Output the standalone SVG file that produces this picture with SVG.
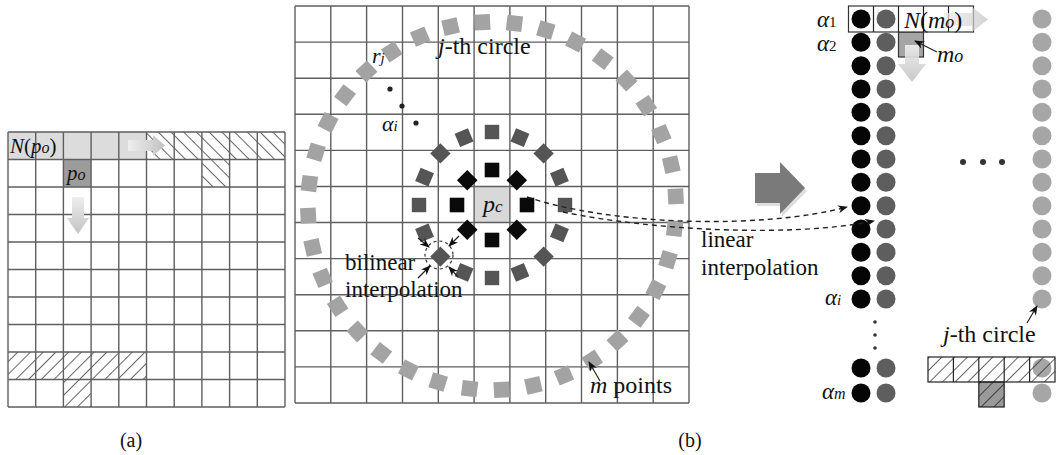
<svg xmlns="http://www.w3.org/2000/svg" xmlns:xlink="http://www.w3.org/1999/xlink" width="1059" height="455" viewBox="0 0 1059 455">
<style>
.grid{fill:none;stroke:#5f5f5f;stroke-width:1.4}
.t{font-family:"Liberation Serif","Times New Roman",serif;fill:#111}
.i{font-style:italic}
.dash{fill:none;stroke:#222;stroke-width:1.4;stroke-dasharray:5 4}
.thin{fill:none;stroke:#222;stroke-width:1.2}
.blk{fill:#050505}
.dg{fill:#5e5e5e}
.lg{fill:#a6a6a6}
</style>
<defs>
<pattern id="hB" width="9" height="9" patternUnits="userSpaceOnUse" patternTransform="rotate(-45)"><line x1="0" y1="0" x2="0" y2="9" stroke="#111" stroke-width="1.3"/></pattern>
<pattern id="hF" width="9" height="9" patternUnits="userSpaceOnUse" patternTransform="rotate(45)"><line x1="0" y1="0" x2="0" y2="9" stroke="#111" stroke-width="1.3"/></pattern>
<linearGradient id="gR" x1="0" y1="0" x2="1" y2="0"><stop offset="0" stop-color="#eeeeee"/><stop offset="1" stop-color="#c2c2c2"/></linearGradient>
<linearGradient id="gD" x1="0" y1="0" x2="0" y2="1"><stop offset="0" stop-color="#eeeeee"/><stop offset="1" stop-color="#c2c2c2"/></linearGradient>
<marker id="ah" viewBox="0 0 10 8" refX="9" refY="4" markerWidth="10" markerHeight="8" markerUnits="userSpaceOnUse" orient="auto"><path d="M0,0 L10,4 L0,8 L3,4 z" fill="#111"/></marker>
<rect id="so" x="-7.8" y="-7.8" width="15.6" height="15.6" fill="#a3a3a3"/>
<rect id="sm" x="-7.2" y="-7.2" width="14.4" height="14.4" fill="#555"/>
<rect id="si" x="-7.3" y="-7.3" width="14.6" height="14.6" fill="#0a0a0a"/>
</defs>
<rect width="1059" height="455" fill="#fff"/>

<!-- Panel (a) -->
<g id="panel-a">
<rect x="8" y="132" width="138.5" height="27.5" fill="#dcdcdc"/>
<rect x="146.5" y="132" width="138.5" height="27.5" fill="url(#hB)"/>
<rect x="201.9" y="159.5" width="27.7" height="27.5" fill="url(#hB)"/>
<rect x="63.4" y="159.5" width="27.7" height="27.5" fill="#9c9c9c"/>
<rect x="8" y="352" width="138.5" height="27.5" fill="url(#hF)"/>
<rect x="63.4" y="379.5" width="27.7" height="27.5" fill="url(#hF)"/>
<path class="grid" d="M8 132V407M35.7 132V407M63.4 132V407M91.1 132V407M118.8 132V407M146.5 132V407M174.2 132V407M201.9 132V407M229.6 132V407M257.3 132V407M285 132V407M8 132H285M8 159.5H285M8 187H285M8 214.5H285M8 242H285M8 269.5H285M8 297H285M8 324.5H285M8 352H285M8 379.5H285M8 407H285"/>
<path d="M128 140H153V135L165 145.5L153 156V151H128Z" fill="url(#gR)"/>
<path d="M72 197H84V218H89L78 234L67 218H72Z" fill="url(#gD)"/>
<text class="t" x="10" y="153" font-size="21"><tspan class="i">N</tspan>(<tspan class="i">p</tspan><tspan class="i" font-size="16">o</tspan>)</text>
<text class="t i" x="67" y="180" font-size="21">p<tspan font-size="16">o</tspan></text>
</g>

<!-- Panel (b) grid -->
<g id="panel-b-grid">
<rect x="474.1" y="186.5" width="35.8" height="36" fill="#d8d8d8"/>
<path class="grid" d="M295 6V403M330.8 6V403M366.6 6V403M402.5 6V403M438.3 6V403M474.1 6V403M509.9 6V403M545.7 6V403M581.5 6V403M617.4 6V403M653.2 6V403M689 6V403M295 6H689M295 42.1H689M295 78.2H689M295 114.3H689M295 150.4H689M295 186.5H689M295 222.5H689M295 258.6H689M295 294.7H689M295 330.8H689M295 366.9H689M295 403H689"/>
</g>

<g id="outer-circle" transform="translate(492,206)">
<use href="#so" transform="rotate(7) translate(184)"/><use href="#so" transform="rotate(17) translate(184)"/><use href="#so" transform="rotate(27) translate(184)"/><use href="#so" transform="rotate(37) translate(184)"/><use href="#so" transform="rotate(47) translate(184)"/><use href="#so" transform="rotate(57) translate(184)"/><use href="#so" transform="rotate(67) translate(184)"/><use href="#so" transform="rotate(77) translate(184)"/><use href="#so" transform="rotate(87) translate(184)"/><use href="#so" transform="rotate(97) translate(184)"/><use href="#so" transform="rotate(107) translate(184)"/><use href="#so" transform="rotate(117) translate(184)"/><use href="#so" transform="rotate(127) translate(184)"/><use href="#so" transform="rotate(137) translate(184)"/><use href="#so" transform="rotate(147) translate(184)"/><use href="#so" transform="rotate(157) translate(184)"/><use href="#so" transform="rotate(167) translate(184)"/><use href="#so" transform="rotate(177) translate(184)"/><use href="#so" transform="rotate(187) translate(184)"/><use href="#so" transform="rotate(197) translate(184)"/><use href="#so" transform="rotate(207) translate(184)"/><use href="#so" transform="rotate(217) translate(184)"/><use href="#so" transform="rotate(227) translate(184)"/><use href="#so" transform="rotate(237) translate(184)"/><use href="#so" transform="rotate(247) translate(184)"/><use href="#so" transform="rotate(257) translate(184)"/><use href="#so" transform="rotate(267) translate(184)"/><use href="#so" transform="rotate(277) translate(184)"/><use href="#so" transform="rotate(287) translate(184)"/><use href="#so" transform="rotate(297) translate(184)"/><use href="#so" transform="rotate(307) translate(184)"/><use href="#so" transform="rotate(317) translate(184)"/><use href="#so" transform="rotate(327) translate(184)"/><use href="#so" transform="rotate(337) translate(184)"/><use href="#so" transform="rotate(347) translate(184)"/><use href="#so" transform="rotate(357) translate(184)"/>
</g>
<g id="middle-circle" transform="translate(492,205)">
<use href="#sm" transform="rotate(0) translate(73)"/><use href="#sm" transform="rotate(22.5) translate(73)"/><use href="#sm" transform="rotate(45) translate(73)"/><use href="#sm" transform="rotate(67.5) translate(73)"/><use href="#sm" transform="rotate(90) translate(73)"/><use href="#sm" transform="rotate(112.5) translate(73)"/><use href="#sm" transform="rotate(135) translate(73)"/><use href="#sm" transform="rotate(157.5) translate(73)"/><use href="#sm" transform="rotate(180) translate(73)"/><use href="#sm" transform="rotate(202.5) translate(73)"/><use href="#sm" transform="rotate(225) translate(73)"/><use href="#sm" transform="rotate(247.5) translate(73)"/><use href="#sm" transform="rotate(270) translate(73)"/><use href="#sm" transform="rotate(292.5) translate(73)"/><use href="#sm" transform="rotate(315) translate(73)"/><use href="#sm" transform="rotate(337.5) translate(73)"/>
</g>
<g id="inner-circle" transform="translate(492,205)">
<use href="#si" transform="rotate(0) translate(35)"/><use href="#si" transform="rotate(45) translate(35)"/><use href="#si" transform="rotate(90) translate(35)"/><use href="#si" transform="rotate(135) translate(35)"/><use href="#si" transform="rotate(180) translate(35)"/><use href="#si" transform="rotate(225) translate(35)"/><use href="#si" transform="rotate(270) translate(35)"/><use href="#si" transform="rotate(315) translate(35)"/>
</g>

<g id="panel-b-labels">
<text class="t i" x="483" y="212" font-size="24">p<tspan font-size="17">c</tspan></text>
<text class="t" x="438" y="54" font-size="24"><tspan class="i">j</tspan>-th circle</text>
<text class="t i" x="372" y="63" font-size="22">r<tspan font-size="15">j</tspan></text>
<circle cx="390" cy="89" r="2.6" fill="#222"/><circle cx="402" cy="106" r="2.6" fill="#222"/><circle cx="416" cy="123" r="2.6" fill="#222"/>
<text class="t i" x="382" y="131" font-size="22">α<tspan font-size="15">i</tspan></text>
<circle cx="439" cy="255" r="14" fill="none" stroke="#333" stroke-width="1.2" stroke-dasharray="3 3"/>
<text class="t" x="345" y="270" font-size="23">bilinear</text>
<text class="t" x="345" y="297" font-size="23">interpolation</text>
<text class="t" x="590" y="393" font-size="24"><tspan class="i">m</tspan> points</text>
<text class="t" x="701" y="247" font-size="23">linear</text>
<text class="t" x="701" y="275" font-size="23">interpolation</text>
</g>

<!-- Panel (b) right -->
<g id="arrow-big"><path d="M757 176H782V165L807 191L782 217V206H757Z" fill="#c8c8c8" opacity="0.6"/><path d="M755 173H780V162L805 188L780 214V203H755Z" fill="#7a7a7a"/></g>

<g id="table-top">
<rect x="898.5" y="32" width="25" height="25" fill="#a5a5a5" stroke="#333" stroke-width="1.2"/>
<rect x="848.5" y="6" width="125" height="26" fill="#fff" stroke="#333" stroke-width="1.2"/>
<path class="thin" d="M873.5 6V32M898.5 6V32M923.5 6V32M948.5 6V32"/>
<path d="M944 13H972V7L988 19.5L972 32V26H944Z" fill="url(#gR)" opacity="0.7"/>
<text class="t" x="904" y="28" font-size="24"><tspan class="i">N</tspan>(<tspan class="i">m</tspan><tspan class="i" font-size="18">o</tspan>)</text>
<path d="M905 45H919V64H926L912 82L898 64H905Z" fill="url(#gD)" opacity="0.9"/>
<text class="t i" x="937" y="62" font-size="24">m<tspan font-size="18">o</tspan></text>
</g>

<g id="col-black" class="blk">
<circle cx="861" cy="19" r="9.5"/><circle cx="861" cy="42.3" r="9.5"/><circle cx="861" cy="65.7" r="9.5"/><circle cx="861" cy="89" r="9.5"/><circle cx="861" cy="112.3" r="9.5"/><circle cx="861" cy="135.7" r="9.5"/><circle cx="861" cy="159" r="9.5"/><circle cx="861" cy="182.3" r="9.5"/><circle cx="861" cy="205.7" r="9.5"/><circle cx="861" cy="229" r="9.5"/><circle cx="861" cy="252.3" r="9.5"/><circle cx="861" cy="275.7" r="9.5"/><circle cx="861" cy="299" r="9.5"/><circle cx="861" cy="368" r="9.5"/><circle cx="861" cy="393" r="9.5"/>
</g>
<g id="col-dark" class="dg">
<circle cx="886" cy="19" r="9.5"/><circle cx="886" cy="42.3" r="9.5"/><circle cx="886" cy="65.7" r="9.5"/><circle cx="886" cy="89" r="9.5"/><circle cx="886" cy="112.3" r="9.5"/><circle cx="886" cy="135.7" r="9.5"/><circle cx="886" cy="159" r="9.5"/><circle cx="886" cy="182.3" r="9.5"/><circle cx="886" cy="205.7" r="9.5"/><circle cx="886" cy="229" r="9.5"/><circle cx="886" cy="252.3" r="9.5"/><circle cx="886" cy="275.7" r="9.5"/><circle cx="886" cy="299" r="9.5"/><circle cx="886" cy="368" r="9.5"/><circle cx="886" cy="393" r="9.5"/>
</g>
<g id="col-light" class="lg">
<circle cx="1042" cy="19" r="9.5"/><circle cx="1042" cy="42.3" r="9.5"/><circle cx="1042" cy="65.7" r="9.5"/><circle cx="1042" cy="89" r="9.5"/><circle cx="1042" cy="112.3" r="9.5"/><circle cx="1042" cy="135.7" r="9.5"/><circle cx="1042" cy="159" r="9.5"/><circle cx="1042" cy="182.3" r="9.5"/><circle cx="1042" cy="205.7" r="9.5"/><circle cx="1042" cy="229" r="9.5"/><circle cx="1042" cy="252.3" r="9.5"/><circle cx="1042" cy="275.7" r="9.5"/><circle cx="1042" cy="299" r="9.5"/><circle cx="1042" cy="368" r="9.5"/><circle cx="1042" cy="393" r="9.5"/>
</g>

<g id="ellipses" fill="#333">
<circle cx="963" cy="162" r="3"/><circle cx="983" cy="162" r="3"/><circle cx="1002" cy="162" r="3"/>
<circle cx="875" cy="322" r="1.8"/><circle cx="875" cy="335" r="1.8"/><circle cx="875" cy="348" r="1.8"/>
</g>

<g id="right-labels">
<text class="t" x="817" y="27" font-size="23"><tspan class="i">α</tspan><tspan font-size="15">1</tspan></text>
<text class="t" x="817" y="51" font-size="23"><tspan class="i">α</tspan><tspan font-size="15">2</tspan></text>
<text class="t i" x="825" y="305" font-size="23">α<tspan font-size="15">i</tspan></text>
<text class="t i" x="822" y="399" font-size="23">α<tspan font-size="16">m</tspan></text>
<text class="t" x="943" y="342" font-size="24"><tspan class="i">j</tspan>-th circle</text>
</g>

<g id="t-hatch">
<rect x="978.8" y="382" width="25.4" height="25" fill="#9a9a9a"/>
<rect x="928" y="357" width="127" height="25" fill="url(#hF)" stroke="#222" stroke-width="1.2"/>
<rect x="978.8" y="382" width="25.4" height="25" fill="url(#hF)" stroke="#222" stroke-width="1.2"/>
<path class="thin" d="M953.4 357V382M978.8 357V382M1004.2 357V382M1029.6 357V382"/>
</g>

<g id="connectors">
<path class="dash" d="M527 197C610 225 760 230 847 207" marker-end="url(#ah)"/>
<path class="dash" d="M563 212C650 230 790 238 874 221" marker-end="url(#ah)"/>
<path class="thin" d="M418 238L429 247" marker-end="url(#ah)"/>
<path class="thin" d="M459 236L449 246" marker-end="url(#ah)"/>
<path class="thin" d="M418 278L430 266" marker-end="url(#ah)"/>
<path class="thin" d="M458 277L449 267" marker-end="url(#ah)"/>
<path class="thin" d="M600 381L589 362" marker-end="url(#ah)"/>
<path class="thin" d="M937 52L915 41" marker-end="url(#ah)"/>
<path class="thin" d="M1027 323L1037 306" marker-end="url(#ah)"/>
</g>

<g id="captions">
<text class="t" x="131" y="447" font-size="20" text-anchor="middle">(a)</text>
<text class="t" x="690" y="447" font-size="20" text-anchor="middle">(b)</text>
</g>
</svg>
